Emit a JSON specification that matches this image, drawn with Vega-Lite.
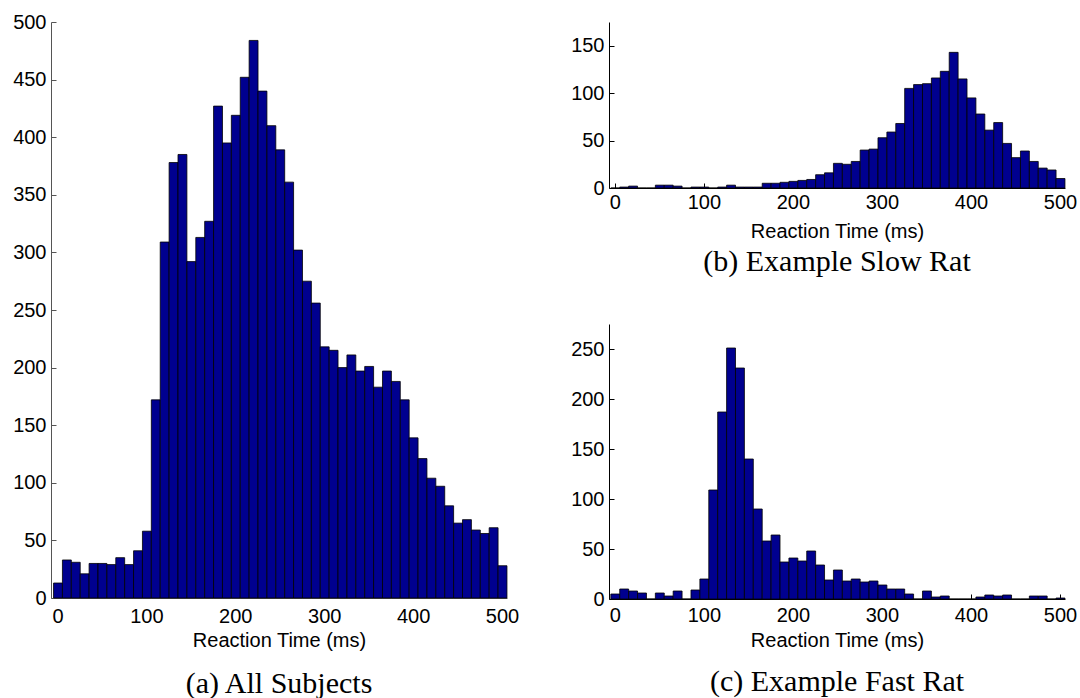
{
  "$schema": "https://vega.github.io/schema/vega-lite/v6.json",
  "background": "white",
  "padding": {"left": 12, "top": 12, "right": 5, "bottom": 0},
  "config": {
    "view": {"stroke": null},
    "font": "Liberation Sans",
    "axis": {"grid": false, "labelFont": "Liberation Sans", "titleFont": "Liberation Sans", "labelFontSize": 20, "titleFontSize": 20, "titleFontWeight": "normal", "labelColor": "black", "titleColor": "black", "domainColor": "black", "tickColor": "black", "tickSize": -5, "labelFlush": false, "labelOverlap": false, "labelPadding": 10},
    "title": {"font": "Liberation Serif", "fontSize": 30, "fontWeight": "normal", "orient": "bottom", "anchor": "middle", "color": "black"},
    "bar": {"fill": "#00008F", "stroke": "black", "strokeWidth": 0.8, "binSpacing": 0}
  },
  "datasets": {
    "all": [
      {"lo": -5, "n": 13}, {"lo": 5, "n": 33}, {"lo": 15, "n": 31}, {"lo": 25, "n": 21}, {"lo": 35, "n": 30},
      {"lo": 45, "n": 30}, {"lo": 55, "n": 29}, {"lo": 65, "n": 35}, {"lo": 75, "n": 29}, {"lo": 85, "n": 41},
      {"lo": 95, "n": 58}, {"lo": 105, "n": 172}, {"lo": 115, "n": 309}, {"lo": 125, "n": 378}, {"lo": 135, "n": 385},
      {"lo": 145, "n": 292}, {"lo": 155, "n": 313}, {"lo": 165, "n": 327}, {"lo": 175, "n": 427}, {"lo": 185, "n": 395},
      {"lo": 195, "n": 419}, {"lo": 205, "n": 452}, {"lo": 215, "n": 484}, {"lo": 225, "n": 440}, {"lo": 235, "n": 410},
      {"lo": 245, "n": 389}, {"lo": 255, "n": 361}, {"lo": 265, "n": 302}, {"lo": 275, "n": 275}, {"lo": 285, "n": 256},
      {"lo": 295, "n": 218}, {"lo": 305, "n": 215}, {"lo": 315, "n": 200}, {"lo": 325, "n": 211}, {"lo": 335, "n": 197},
      {"lo": 345, "n": 201}, {"lo": 355, "n": 183}, {"lo": 365, "n": 197}, {"lo": 375, "n": 188}, {"lo": 385, "n": 172},
      {"lo": 395, "n": 139}, {"lo": 405, "n": 121}, {"lo": 415, "n": 104}, {"lo": 425, "n": 97}, {"lo": 435, "n": 80},
      {"lo": 445, "n": 65}, {"lo": 455, "n": 68}, {"lo": 465, "n": 59}, {"lo": 475, "n": 56}, {"lo": 485, "n": 61},
      {"lo": 495, "n": 28}
    ],
    "slow": [
      {"lo": -5, "n": 0}, {"lo": 5, "n": 1}, {"lo": 15, "n": 2}, {"lo": 25, "n": 0}, {"lo": 35, "n": 0},
      {"lo": 45, "n": 3}, {"lo": 55, "n": 3}, {"lo": 65, "n": 2}, {"lo": 75, "n": 0}, {"lo": 85, "n": 1},
      {"lo": 95, "n": 1}, {"lo": 105, "n": 0}, {"lo": 115, "n": 1}, {"lo": 125, "n": 3}, {"lo": 135, "n": 1},
      {"lo": 145, "n": 1}, {"lo": 155, "n": 1}, {"lo": 165, "n": 5}, {"lo": 175, "n": 5}, {"lo": 185, "n": 6},
      {"lo": 195, "n": 7}, {"lo": 205, "n": 8}, {"lo": 215, "n": 9}, {"lo": 225, "n": 14}, {"lo": 235, "n": 16},
      {"lo": 245, "n": 26}, {"lo": 255, "n": 25}, {"lo": 265, "n": 28}, {"lo": 275, "n": 40}, {"lo": 285, "n": 41},
      {"lo": 295, "n": 53}, {"lo": 305, "n": 59}, {"lo": 315, "n": 68}, {"lo": 325, "n": 105}, {"lo": 335, "n": 109},
      {"lo": 345, "n": 110}, {"lo": 355, "n": 116}, {"lo": 365, "n": 123}, {"lo": 375, "n": 143}, {"lo": 385, "n": 115},
      {"lo": 395, "n": 95}, {"lo": 405, "n": 78}, {"lo": 415, "n": 61}, {"lo": 425, "n": 69}, {"lo": 435, "n": 47},
      {"lo": 445, "n": 32}, {"lo": 455, "n": 39}, {"lo": 465, "n": 28}, {"lo": 475, "n": 21}, {"lo": 485, "n": 19},
      {"lo": 495, "n": 10}
    ],
    "fast": [
      {"lo": -5, "n": 5}, {"lo": 5, "n": 10}, {"lo": 15, "n": 8}, {"lo": 25, "n": 6}, {"lo": 35, "n": 0},
      {"lo": 45, "n": 6}, {"lo": 55, "n": 3}, {"lo": 65, "n": 8}, {"lo": 75, "n": 0}, {"lo": 85, "n": 9},
      {"lo": 95, "n": 20}, {"lo": 105, "n": 109}, {"lo": 115, "n": 187}, {"lo": 125, "n": 251}, {"lo": 135, "n": 231},
      {"lo": 145, "n": 140}, {"lo": 155, "n": 90}, {"lo": 165, "n": 58}, {"lo": 175, "n": 64}, {"lo": 185, "n": 37},
      {"lo": 195, "n": 41}, {"lo": 205, "n": 38}, {"lo": 215, "n": 48}, {"lo": 225, "n": 34}, {"lo": 235, "n": 19},
      {"lo": 245, "n": 29}, {"lo": 255, "n": 18}, {"lo": 265, "n": 20}, {"lo": 275, "n": 17}, {"lo": 285, "n": 18},
      {"lo": 295, "n": 14}, {"lo": 305, "n": 10}, {"lo": 315, "n": 10}, {"lo": 325, "n": 5}, {"lo": 335, "n": 0},
      {"lo": 345, "n": 8}, {"lo": 355, "n": 2}, {"lo": 365, "n": 3}, {"lo": 375, "n": 0}, {"lo": 385, "n": 0},
      {"lo": 395, "n": 0}, {"lo": 405, "n": 2}, {"lo": 415, "n": 4}, {"lo": 425, "n": 3}, {"lo": 435, "n": 4},
      {"lo": 445, "n": 0}, {"lo": 455, "n": 0}, {"lo": 465, "n": 3}, {"lo": 475, "n": 3}, {"lo": 485, "n": 0},
      {"lo": 495, "n": 1}
    ]
  },
  "bounds": "flush",
  "spacing": 102,
  "hconcat": [
    {
      "data": {"name": "all"},
      "width": 456,
      "height": 576,
      "title": {"text": "(a) All Subjects", "offset": 19},
      "mark": {"type": "bar"},
      "encoding": {
        "x": {"field": "lo", "type": "quantitative", "bin": {"binned": true, "step": 10},
              "scale": {"domain": [-7.3, 505.6], "nice": false, "zero": false},
              "axis": {"values": [0, 100, 200, 300, 400, 500], "title": "Reaction Time (ms)", "labelPadding": 13, "titlePadding": 4, "domainColor": "#555", "tickColor": "#555", "format": "d"}},
        "y": {"field": "n", "type": "quantitative",
              "scale": {"domain": [0, 500], "nice": false},
              "axis": {"values": [0, 50, 100, 150, 200, 250, 300, 350, 400, 450, 500], "title": null, "domainColor": "#555", "tickColor": "#555"}}
      }
    },
    {
      "bounds": "flush",
      "spacing": 136,
      "vconcat": [
        {
          "data": {"name": "slow"},
          "width": 456,
          "height": 166,
          "title": {"text": "(b) Example Slow Rat", "offset": 6},
          "mark": {"type": "bar"},
          "encoding": {
            "x": {"field": "lo", "type": "quantitative", "bin": {"binned": true, "step": 10},
                  "scale": {"domain": [-6.5, 505.6], "nice": false, "zero": false},
                  "axis": {"values": [0, 100, 200, 300, 400, 500], "title": "Reaction Time (ms)", "labelPadding": 9, "titlePadding": 9, "format": "d"}},
            "y": {"field": "n", "type": "quantitative",
                  "scale": {"domain": [0, 175], "nice": false},
                  "axis": {"values": [0, 50, 100, 150], "title": null}}
          }
        },
        {
          "data": {"name": "fast"},
          "width": 456,
          "height": 275,
          "title": {"text": "(c) Example Fast Rat", "offset": 17},
          "mark": {"type": "bar"},
          "encoding": {
            "x": {"field": "lo", "type": "quantitative", "bin": {"binned": true, "step": 10},
                  "scale": {"domain": [-6.5, 505.6], "nice": false, "zero": false},
                  "axis": {"values": [0, 100, 200, 300, 400, 500], "title": "Reaction Time (ms)", "labelPadding": 11, "titlePadding": 5, "format": "d"}},
            "y": {"field": "n", "type": "quantitative",
                  "scale": {"domain": [0, 275], "nice": false},
                  "axis": {"values": [0, 50, 100, 150, 200, 250], "title": null}}
          }
        }
      ]
    }
  ]
}
